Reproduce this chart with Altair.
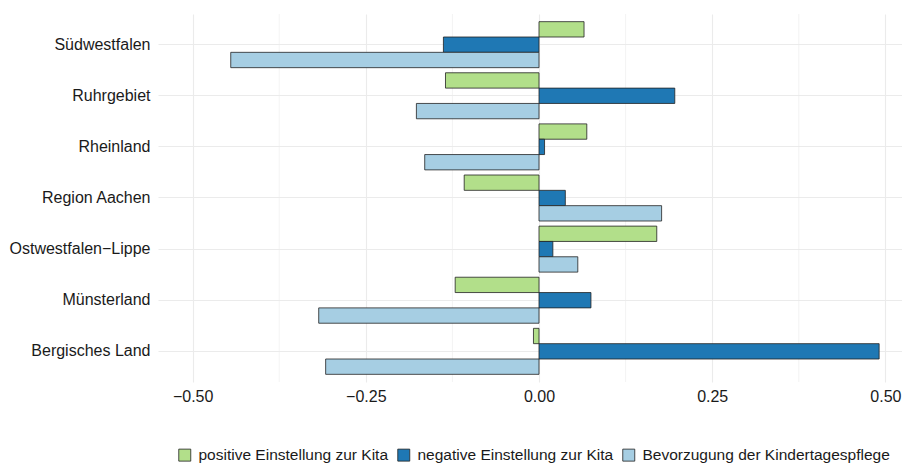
import altair as alt
import pandas as pd

regions = ["Südwestfalen", "Ruhrgebiet", "Rheinland", "Region Aachen",
           "Ostwestfalen\u2212Lippe", "Münsterland", "Bergisches Land"]
series = ["positive Einstellung zur Kita", "negative Einstellung zur Kita",
          "Bevorzugung der Kindertagespflege"]
colors = ["#b2df8a", "#1f78b4", "#a6cee3"]

positive = [0.065, -0.135, 0.069, -0.108, 0.170, -0.121, -0.008]
negative = [-0.138, 0.196, 0.008, 0.038, 0.020, 0.075, 0.491]
tagespflege = [-0.445, -0.177, -0.165, 0.177, 0.056, -0.318, -0.308]

major_ticks = [-0.5, -0.25, 0.0, 0.25, 0.5]
minor_grid = [-0.375, -0.125, 0.125, 0.375]

rows = []
for vals, s in zip([positive, negative, tagespflege], series):
    for r, v in zip(regions, vals):
        rows.append({"region": r, "series": s, "value": v})
df = pd.DataFrame(rows)
minor_df = pd.DataFrame({"x": minor_grid})

FONT = "Liberation Sans"
FS = 16

xscale = alt.Scale(domain=[-0.55, 0.524], nice=False, zero=False)
xaxis = alt.Axis(values=major_ticks, format=".2f", title=None,
                 grid=True, gridColor="#ebebeb", gridWidth=1.1,
                 domain=False, ticks=False, labelPadding=6,
                 labelFontSize=FS, labelColor="#1a1a1a", labelFont=FONT)

minor = alt.Chart(minor_df).mark_rule(color="#ebebeb", strokeWidth=0.6).encode(
    x=alt.X("x:Q", scale=xscale, axis=xaxis)
)

bars = alt.Chart(df).mark_bar(stroke="#222222", strokeWidth=0.8).encode(
    x=alt.X("value:Q", scale=xscale, axis=xaxis),
    y=alt.Y("region:N", sort=regions,
            scale=alt.Scale(paddingInner=0.1, paddingOuter=0.15),
            axis=alt.Axis(title=None, grid=True, gridColor="#ebebeb", gridWidth=1.1,
                          bandPosition=0.5, tickExtra=False, domain=False, ticks=False,
                          labelPadding=8, labelFontSize=FS, labelColor="#1a1a1a",
                          labelFont=FONT)),
    yOffset=alt.YOffset("series:N", sort=series,
                        scale=alt.Scale(paddingInner=0, paddingOuter=0)),
    color=alt.Color("series:N", sort=series,
                    scale=alt.Scale(domain=series, range=colors),
                    legend=alt.Legend(title=None, orient="none", direction="horizontal",
                                      columns=3, legendX=19, legendY=433,
                                      symbolType="square", symbolSize=144,
                                      symbolStrokeColor="#222222", symbolStrokeWidth=0.8,
                                      labelOffset=6, columnPadding=7,
                                      labelFontSize=15.5, labelFont=FONT,
                                      labelColor="#1a1a1a", labelLimit=0)),
)

chart = alt.layer(minor, bars).properties(
    width=744, height=368,
    autosize=alt.AutoSizeParams(type="none"),
    padding={"left": 150, "top": 6, "right": 0, "bottom": 83},
).configure(font=FONT).configure_view(strokeWidth=0, stroke=None)

chart.save("out.html", embed_options={"renderer": "svg", "actions": False})
